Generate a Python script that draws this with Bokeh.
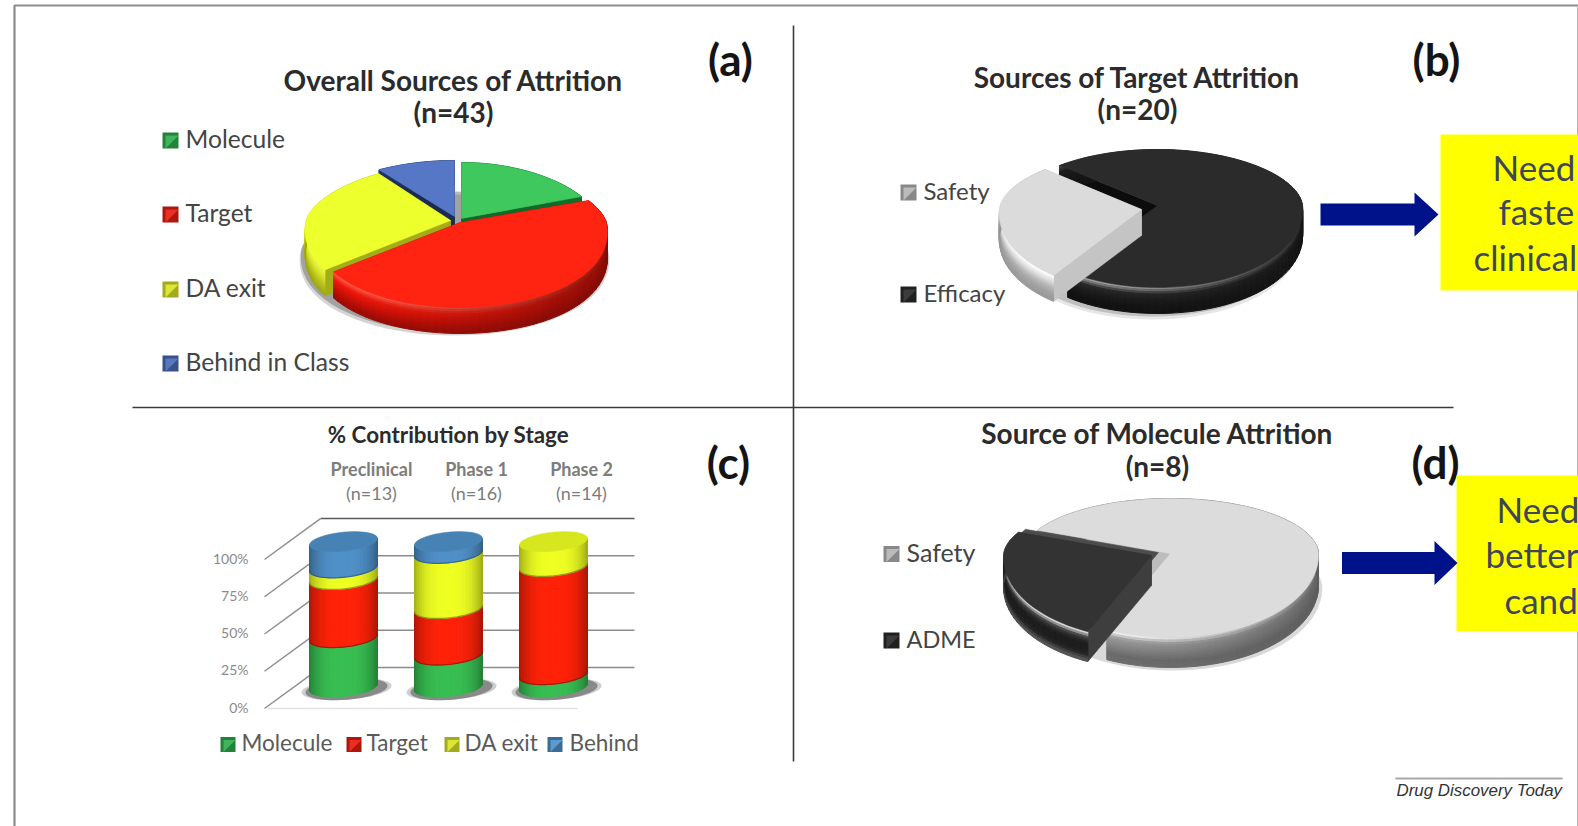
import math
import numpy as np
from bokeh.core.properties import value
from bokeh.embed import file_html
from bokeh.models import Range1d
from bokeh.plotting import figure
from bokeh.resources import INLINE

# ---- chart values ----
overall_labels = ["Molecule", "Target", "DA exit", "Behind in Class"]
overall_counts = [8, 20, 11, 4]

target_labels = ["Safety", "Efficacy"]
target_share = [27.5, 72.5]

molecule_labels = ["ADME", "Safety"]
molecule_counts = [2, 6]

stage_names = ["Preclinical", "Phase 1", "Phase 2"]
stage_sizes = ["(n=13)", "(n=16)", "(n=14)"]
stage_series = ["Molecule", "Target", "DA exit", "Behind"]
molecule_pct = [34, 22, 8.5]
target_pct = [40, 32, 74.5]
da_exit_pct = [8, 38, 17]
behind_pct = [18, 8, 0]
axis_ticks = [0, 25, 50, 75, 100]

# ---- page and shared scales ----
W, H = 1578, 826
PX_PER_PCT = 1.49
FLOOR_PX = 708

p = figure(width=W, height=H, x_range=Range1d(0, W), y_range=Range1d(H, 0),
           toolbar_location=None, output_backend="svg", min_border=0)
p.axis.visible = False
p.grid.visible = False
p.outline_line_color = None
p.background_fill_color = "#ffffff"
p.extra_y_ranges["pct"] = Range1d((FLOOR_PX - H) / PX_PER_PCT, FLOOR_PX / PX_PER_PCT)


def mix(c1, c2, f):
    a = [int(c1[i:i + 2], 16) for i in (1, 3, 5)]
    b = [int(c2[i:i + 2], 16) for i in (1, 3, 5)]
    return "#%02x%02x%02x" % tuple(int(round(a[i] + (b[i] - a[i]) * f)) for i in range(3))


def smooth(stops, n=12):
    """Resample a list of colour stops into n evenly graded colours."""
    out = []
    for j in range(n):
        t = j / (n - 1) * (len(stops) - 1)
        i = min(int(t), len(stops) - 2)
        out.append(mix(stops[i], stops[i + 1], t - i))
    return out


def text(x, y, s, size, color="#3a3a3a", style="normal", align="center",
         font="Lato", base="middle", y_range_name="default"):
    p.text([x], [y], text=[s], text_font=value(font), text_font_size=f"{size}px",
           text_color=color, text_font_style=style, text_align=align,
           text_baseline=base, y_range_name=y_range_name)


def pie(values, start, cfg):
    """Extruded pie in a tilted view: each wedge gets end faces, a shaded wall and a top."""
    total = sum(values)
    spans, a = [], start
    for v in values:
        spans.append((a, a + 360.0 * v / total))
        a += 360.0 * v / total

    def xy(th, cx, cy, sx):
        t = math.radians(th)
        s, c = math.sin(t), math.cos(t)
        return (cx + cfg["rx"] * sx * s * (1 - cfg["k"] * c),
                cy - (cfg["ryb"] if c > 0 else cfg["ryf"]) * c)

    # soft cast shadow under the whole pie
    th = np.arange(0, 361, 4)
    for grow, drop, alpha in cfg["shadow"]:
        pts = [xy(t, cfg["cx"] + 2, cfg["cy"] + cfg["depth"] + drop, 1 + grow) for t in th]
        p.patch([q[0] for q in pts], [q[1] for q in pts], fill_color="#666666",
                fill_alpha=alpha, line_color=None)

    order = sorted(range(len(values)),
                   key=lambda i: -math.cos(math.radians(sum(spans[i]) / 2)))
    d = cfg["depth"]
    for i in order:
        a0, a1 = spans[i]
        st = cfg["slices"][i]
        cx, cy, sx = cfg["cx"] + st["dx"], cfg["cy"] + st["dy"], st.get("sx", 1.0)
        angles = np.linspace(a0, a1, max(int((a1 - a0) / 3), 2) + 1)
        arc = [xy(t, cx, cy, sx) for t in angles]

        # raised ledge behind a wedge
        if "ridge" in st:
            rx_, ry_, rc = st["ridge"]
            xs = [cx + rx_] + [q[0] + rx_ for q in arc]
            ys = [cy + ry_] + [q[1] + ry_ for q in arc]
            p.patch(xs, ys, fill_color=rc, line_color=rc, line_width=0.5)

        # straight end faces
        for end in (arc[0], arc[-1]):
            p.patch([cx, end[0], end[0], cx], [cy, end[1], end[1] + d, cy + d],
                    fill_color=st["face"], line_color=st["face"], line_width=0.5)

        # wall bands, brightest towards the lower left of the rim
        qx, qy, qc = [], [], []
        layers = smooth(st["wall"])
        for j in range(len(layers)):
            y0, y1 = d * j / len(layers), d * (j + 1) / len(layers)
            for k in range(len(arc) - 1):
                mid = math.radians((angles[k] + angles[k + 1]) / 2)
                glow = 0.5 + 0.5 * math.cos(mid - math.radians(cfg["light"]))
                col = mix(st["dark"], layers[j], 0.15 + 0.85 * glow ** 2)
                qx.append([arc[k][0], arc[k + 1][0], arc[k + 1][0], arc[k][0]])
                qy.append([arc[k][1] + y0, arc[k + 1][1] + y0, arc[k + 1][1] + y1, arc[k][1] + y1])
                qc.append(col)
        p.patches(qx, qy, fill_color=qc, line_color=qc, line_width=1)

        # top surface
        xs = [cx] + [q[0] for q in arc]
        ys = [cy] + [q[1] for q in arc]
        p.patch(xs, ys, fill_color=st["top"], line_color=st["top"], line_width=0.5)


# ---- frame and dividers ----
p.line([14, 14, W], [H, 5, 5], line_color="#8c8c8c", line_width=2.2)
p.line([W - 1, W - 1], [5, H], line_color="#b5b5b5", line_width=1)
p.line([793, 793], [25, 761], line_color="#3a3a3a", line_width=1.6)
p.line([132, 1453], [407, 407], line_color="#3a3a3a", line_width=1.6)

# ---- (a) overall sources ----
pie(overall_counts, 0, dict(
    cx=452, cy=218, rx=152, ryb=56, ryf=85, k=0.12, depth=26, light=235,
    shadow=[(0.012, 6, 0.28), (0.004, 3, 0.45)],
    slices=[
        dict(dx=9, dy=0, sx=0.9, top="#3ec85e", face="#0f6a28", dark="#0f6a28",
             wall=["#1e9a40", "#168a36", "#127a2e"]),
        dict(dx=8, dy=4, sx=0.96, top="#ff2312", face="#a81008", dark="#7e0c06",
             wall=["#ff5a48", "#f01a0c", "#d81208", "#b80e06", "#9c0c06"]),
        dict(dx=-2, dy=2, sx=0.95, top="#eeff2e", face="#a3ad18", dark="#8c9414",
             wall=["#f0fa40", "#d8e428", "#b8c41c", "#a0a818"]),
        dict(dx=2, dy=-2, top="#5577c6", face="#1c2b52", dark="#1c2b52",
             wall=["#2f4680", "#24386c"]),
    ]))

# ---- (b) target attrition ----
pie(target_share, 216.5, dict(
    cx=1150, cy=206, rx=145, ryb=56, ryf=82, k=0.05, depth=26, light=225,
    shadow=[(0.012, 5, 0.16), (0.004, 2, 0.3)],
    slices=[
        dict(dx=-9, dy=3, sx=0.98, top="#dbdbdb", face="#c4c4c4", dark="#8a8a8a",
             wall=["#ffffff", "#dedede", "#b8b8b8", "#a2a2a2", "#9a9a9a"]),
        dict(dx=7, dy=-1, top="#2b2b2b", face="#0c0c0c", dark="#161616",
             wall=["#a8a8a8", "#2a2a2a", "#1c1c1c", "#141414", "#111111"]),
    ]))

# ---- (c) stacked cylinders by stage ----
levels = [level for level in axis_ticks]
back = 27.5
p.segment([320] * 4, [v + back for v in levels[:-1]], [634] * 4, [v + back for v in levels[:-1]],
          line_color="#8c8c8c", line_width=1.6, y_range_name="pct")
p.segment([320], [100 + back], [634], [100 + back], line_color="#5a5a5a", line_width=1.4,
          y_range_name="pct")
p.segment([264] * 5, levels, [320] * 5, [v + back for v in levels], line_color="#8f8f8f",
          line_width=1.5, y_range_name="pct")
p.segment([267], [0], [577], [0], line_color="#e2e2e2", line_width=1.4, y_range_name="pct")
for v in axis_ticks:
    text(248, v + 1, f"{v}%", 14, color="#8a8a8a", align="right", y_range_name="pct")

stack_colors = ["#38be52", "#ff2208", "#eeff22", "#4f90c8"]
stack_lines = ["#0f6a28", "#8a1608", "#7f7f10", "#2d5a86"]
stack = [molecule_pct, target_pct, da_exit_pct, behind_pct]
centers = [343, 448, 553]
RX, RY, TILT, SHIFT, SQUEEZE = 34, 9.5 / PX_PER_PCT, 3.3 / PX_PER_PCT, 14.5, 0.975

for c, cx in enumerate(centers):
    base = SHIFT
    phi = np.radians(np.linspace(-90, 90, 37))
    xs = cx + RX * np.sin(phi)
    front = RY * np.cos(phi) - TILT * np.sin(phi)

    # contact shadow on the floor
    ang = np.radians(np.arange(0, 361, 8))
    for grow, alpha in ((11, 0.22), (7, 0.4)):
        p.patch(cx + 3 + (RX + grow) * np.cos(ang),
                base - 1.5 + (RY + 0.8) * np.sin(ang) + TILT * np.cos(ang),
                fill_color="#222222", fill_alpha=alpha, line_color=None, y_range_name="pct")

    level = 0.0
    top_series = 0
    for s, series in enumerate(stack):
        v = series[c] * SQUEEZE
        if v <= 0:
            continue
        lo, hi = base + level, base + level + v
        qx, qy, qc = [], [], []
        for k in range(len(phi) - 1):
            edge = abs(math.sin((phi[k] + phi[k + 1]) / 2)) ** 3
            col = mix(stack_colors[s], "#000000", 0.32 * edge)
            qx.append([xs[k], xs[k + 1], xs[k + 1], xs[k]])
            qy.append([hi - front[k], hi - front[k + 1], lo - front[k + 1], lo - front[k]])
            qc.append(col)
        p.patches(qx, qy, fill_color=qc, line_color=qc, line_width=1, y_range_name="pct")
        if level > 0:
            p.line(xs, lo - front, line_color=stack_lines[s], line_width=1.3, line_alpha=0.75,
                   y_range_name="pct")
        level += v
        top_series = s

    # top cap of the stack
    top = base + level
    cap = mix(stack_colors[top_series], "#000000", 0.1)
    p.patch(cx + RX * np.cos(ang), top + RY * np.sin(ang) + TILT * np.cos(ang),
            fill_color=cap, line_color=cap, line_width=0.5, y_range_name="pct")

# ---- (d) molecule attrition ----
pie(molecule_counts, 205, dict(
    cx=1170, cy=553, rx=148, ryb=55, ryf=84, k=0.02, depth=30, light=215,
    shadow=[(0.012, 3, 0.25)],
    slices=[
        dict(dx=-19, dy=2, top="#333333", face="#3e3e3e", dark="#1c1c1c",
             ridge=(7, -3, "#4c4c4c"),
             wall=["#d8d8d8", "#3a3a3a", "#1e1e1e", "#1c1c1c", "#222222", "#555555"]),
        dict(dx=0, dy=0, top="#dcdcdc", face="#bdbdbd", dark="#5a5a5a",
             wall=["#f2f2f2", "#9c9c9c", "#8c8c8c", "#7c7c7c", "#6a6a6a", "#6e6e6e"]),
    ]))

# ---- titles ----
TITLE = "#2b2b2b"
text(453, 79, "Overall Sources of Attrition", 28, style="bold", color=TITLE)
text(453, 111, "(n=43)", 28, style="bold", color=TITLE)
text(1137, 76, "Sources of Target Attrition", 28, style="bold", color=TITLE)
text(1137, 108, "(n=20)", 28, style="bold", color=TITLE)
text(448, 434, "% Contribution by Stage", 22.4, style="bold", color=TITLE)
text(1157, 432, "Source of Molecule Attrition", 28, style="bold", color=TITLE)
text(1157, 465, "(n=8)", 28, style="bold", color=TITLE)

for name, cx in zip(stage_names, (371, 476, 581)):
    text(cx, 468, name, 18, color="#7c7c7c", style="bold")
for size, cx in zip(stage_sizes, (371, 476, 581)):
    text(cx, 492, size, 18, color="#7c7c7c")

# ---- panel letters ----
for letter, cx, cy in (("(a)", 730, 58), ("(b)", 1436, 58), ("(c)", 728, 461), ("(d)", 1435, 461)):
    text(cx, cy, letter, 44, style="bold", color="#141414")


def swatch(x0, y, size, color):
    y0, y1 = y - size / 2, y + size / 2
    x1 = x0 + size
    p.quad(left=[x0], right=[x1], top=[y0], bottom=[y1], fill_color=mix(color, "#000000", 0.25),
           line_color=None)
    p.patch([x0 + 3, x1, x0 + 3], [y1, y0 + 3, y0 + 3], fill_color=mix(color, "#ffffff", 0.08),
            line_color=None)


# ---- legends ----
overall_swatch = ["#2fae4e", "#e81c10", "#d8e428", "#4a6cb8"]
for name, y, col in zip(overall_labels, (140, 214, 289, 363), overall_swatch):
    swatch(162, y, 16, col)
    text(185, y - 2, name, 24.6, color="#444444", align="left")

for name, y, col in zip(target_labels, (192, 294), ("#b5b5b5", "#2b2b2b")):
    swatch(900, y, 16, col)
    text(923, y - 2, name, 24, color="#444444", align="left")

for name, y, col, size in zip(molecule_labels[::-1], (553.5, 640), ("#b5b5b5", "#2b2b2b"), (25, 23.5)):
    swatch(883, y, 16, col)
    text(906, y - 2, name, size, color="#444444", align="left")

for name, col, sx, tx in zip(stage_series, ("#2fae4e", "#e81c10", "#d8e428", "#4f90c8"),
                             (220, 346, 444, 547), (241, 366, 464, 569)):
    swatch(sx, 744, 15, col)
    text(tx, 742, name, 22.5, color="#5a5a5a", align="left")

# ---- call-outs ----
BOX_TEXT = "#3f4658"
p.quad(left=[1440], right=[W], top=[134], bottom=[290], fill_color="#ffff00", line_color=None)
p.quad(left=[1456], right=[W], top=[475], bottom=[631], fill_color="#ffff00", line_color=None)
for x, y, s in ((1492, 166, "Need"), (1498, 210, "faste"), (1473, 256, "clinical"),
                (1496, 508, "Need"), (1485, 553, "better"), (1504, 599, "cand")):
    text(x, y, s, 35, color=BOX_TEXT, align="left")

ARROW = "#00128a"
for x0, x1, tip, yc in ((1320, 1414, 1438, 214), (1341.5, 1434, 1457, 562.5)):
    p.patch([x0, x1, x1, tip, x1, x1, x0],
            [yc - 11, yc - 11, yc - 22, yc, yc + 22, yc + 11, yc + 11],
            fill_color=ARROW, line_color=None)

# ---- journal credit ----
p.line([1395, 1562], [778, 778], line_color="#a8a8a8", line_width=2)
text(1396, 790, "Drug Discovery Today", 16.9, color="#333333", style="italic", align="left",
     font="Liberation Sans")

open("out.html", "w").write(file_html(p, INLINE))
